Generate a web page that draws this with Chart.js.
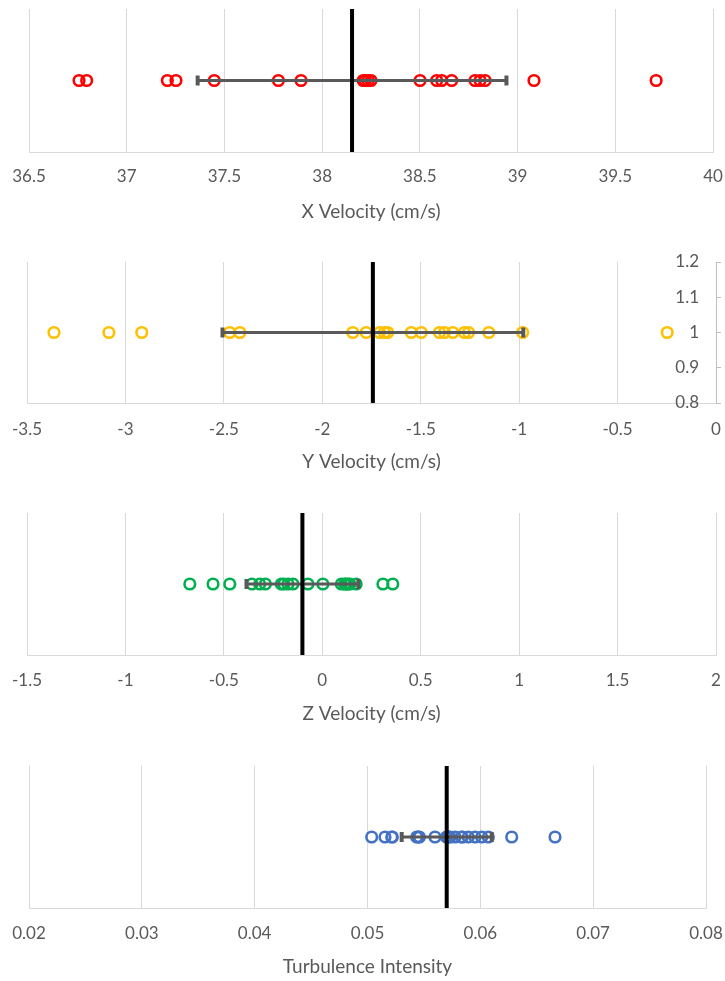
<!DOCTYPE html>
<html><head><meta charset="utf-8">
<script src="https://cdn.jsdelivr.net/npm/chart.js@4.4.1/dist/chart.umd.min.js"></script>
<style>
html,body{margin:0;padding:0;background:#fff;overflow:hidden;width:725px;height:981px}
.c{position:absolute;left:0;width:725px}
canvas{display:block}
</style></head><body>
<div class="c" id="w1"><canvas id="c1"></canvas></div>
<div class="c" id="w2"><canvas id="c2"></canvas></div>
<div class="c" id="w3"><canvas id="c3"></canvas></div>
<div class="c" id="w4"><canvas id="c4"></canvas></div>
<script>
// ---- data ----
const xVelocity = [36.756, 36.795, 37.208, 37.252, 37.448, 37.776, 37.892, 38.21, 38.22, 38.235, 38.25, 38.501, 38.586, 38.612, 38.663, 38.782, 38.808, 38.834, 39.084, 39.709];
const yVelocity = [-3.363, -3.084, -2.917, -2.470, -2.419, -1.845, -1.777, -1.709, -1.684, -1.668, -1.548, -1.497, -1.405, -1.379, -1.337, -1.278, -1.257, -1.154, -0.982, -0.248];
const zVelocity = [-0.673, -0.555, -0.470, -0.357, -0.318, -0.289, -0.208, -0.195, -0.174, -0.149, -0.073, 0.003, 0.097, 0.113, 0.120, 0.130, 0.140, 0.172, 0.308, 0.358];
const turbulence = [0.05037, 0.05155, 0.05215, 0.0522, 0.05436, 0.0545, 0.0546, 0.05598, 0.0570, 0.0572, 0.05731, 0.05776, 0.05835, 0.0584, 0.05893, 0.05953, 0.06012, 0.06071, 0.06278, 0.06662];
// mean and standard deviation (error bar half-width) per series
const xMeanSd = [38.153, 0.79];
const yMeanSd = [-1.743, 0.764];
const zMeanSd = [-0.101, 0.284];
const tMeanSd = [0.05702, 0.00399];
// axis ranges [min, max, step]
const xRange = [36.5, 40, 0.5];
const yRange = [-3.5, 0, 0.5];
const zRange = [-1.5, 2, 0.5];
const tRange = [0.02, 0.08, 0.01];
const yVelRowTicks = [0.8, 0.9, 1, 1.1, 1.2];
const titles = ['X Velocity (cm/s)', 'Y Velocity (cm/s)', 'Z Velocity (cm/s)', 'Turbulence Intensity'];
const rowLevel = 1;

const FONT = 'Lato, "Open Sans", sans-serif';
const TXT = '#595959';
const TICK_SIZE = 17, TITLE_SIZE = 19;

function fmt(v){ return String(parseFloat(Number(v).toFixed(5))); }

function makeChart(id, values, meanSd, range, title, color, geo, showY) {
  const padTop = showY ? 14 : 8;
  const top = geo.areaTop - padTop;
  const H = geo.titleY + 16 - top;
  const wrap = document.getElementById('w' + id);
  wrap.style.top = top + 'px';
  const cv = document.getElementById('c' + id);
  cv.width = 725; cv.height = H;
  cv.style.width = '725px'; cv.style.height = H + 'px';
  const areaH = geo.areaBottom - geo.areaTop;
  const yMin = showY ? yVelRowTicks[0] : 0, yMax = showY ? yVelRowTicks[yVelRowTicks.length - 1] : 2;
  const [mean, sd] = meanSd;
  new Chart(cv, {
    type: 'scatter',
    data: {
      datasets: [
        { data: [{x: mean, y: yMin}, {x: mean, y: yMax}], showLine: true, borderColor: '#000', borderWidth: 4, pointRadius: 0, borderCapStyle: 'butt' },
        { data: [{x: mean - sd, y: rowLevel}, {x: mean + sd, y: rowLevel}], showLine: true, borderColor: '#595959', borderWidth: 3,
          pointStyle: 'line', rotation: 90, pointRadius: 5, pointBorderWidth: 4, pointBorderColor: '#595959', pointBackgroundColor: '#595959' },
        { data: values.map(v => ({x: v, y: rowLevel})), borderColor: color, backgroundColor: 'rgba(0,0,0,0)', pointRadius: 5.3, pointBorderWidth: 2.6, showLine: false }
      ]
    },
    options: {
      responsive: false, animation: false, devicePixelRatio: 1,
      layout: { padding: { top: padTop, bottom: 0, left: geo.left, right: showY ? 0 : 725 - geo.right } },
      plugins: { legend: { display: false }, tooltip: { enabled: false } },
      scales: {
        x: {
          type: 'linear', min: range[0], max: range[1],
          afterBuildTicks: s => { const t = []; for (let i = 0; range[0] + i * range[2] <= range[1] + 1e-9; i++) t.push({value: +(range[0] + i * range[2]).toFixed(6)}); s.ticks = t; },
          afterFit: s => { s.height = H - padTop - areaH; s.paddingLeft = 0; s.paddingRight = 0; },
          grid: { color: '#D9D9D9', lineWidth: 1, drawTicks: false },
          border: { display: true, color: '#D9D9D9', width: 1 },
          ticks: { autoSkip: false, maxRotation: 0, padding: geo.labelY - geo.areaBottom - TICK_SIZE * 0.6, color: TXT, font: { family: FONT, size: TICK_SIZE }, callback: v => fmt(v) },
          title: { display: true, text: title, color: TXT, font: { family: FONT, size: TITLE_SIZE }, padding: { top: 0, bottom: 16 - TITLE_SIZE * 0.6 } }
        },
        y: showY ? {
          type: 'linear', position: 'right', min: yMin, max: yMax,
          afterBuildTicks: s => { s.ticks = yVelRowTicks.map(v => ({value: v})); },
          afterFit: s => { s.width = 725 - geo.right; s.paddingTop = 0; s.paddingBottom = 0; },
          grid: { drawOnChartArea: false, drawTicks: true, tickLength: 5, color: '#BFBFBF' },
          border: { display: true, color: '#BFBFBF', width: 1 },
          ticks: { mirror: true, padding: -17, color: TXT, font: { family: FONT, size: TICK_SIZE }, callback: v => fmt(v) }
        } : { type: 'linear', min: yMin, max: yMax, display: false }
      }
    }
  });
}

makeChart(1, xVelocity, xMeanSd, xRange, titles[0], '#FF0000', {areaTop: 8, areaBottom: 152, labelY: 177, titleY: 212, left: 29, right: 713}, false);
makeChart(2, yVelocity, yMeanSd, yRange, titles[1], '#FFC000', {areaTop: 262, areaBottom: 403, labelY: 430, titleY: 462, left: 27, right: 717}, true);
makeChart(3, zVelocity, zMeanSd, zRange, titles[2], '#00B050', {areaTop: 512, areaBottom: 655, labelY: 681, titleY: 714, left: 27, right: 717}, false);
makeChart(4, turbulence, tMeanSd, tRange, titles[3], '#4472C4', {areaTop: 765, areaBottom: 908, labelY: 934, titleY: 967, left: 29, right: 706}, false);
</script>
</body></html>
